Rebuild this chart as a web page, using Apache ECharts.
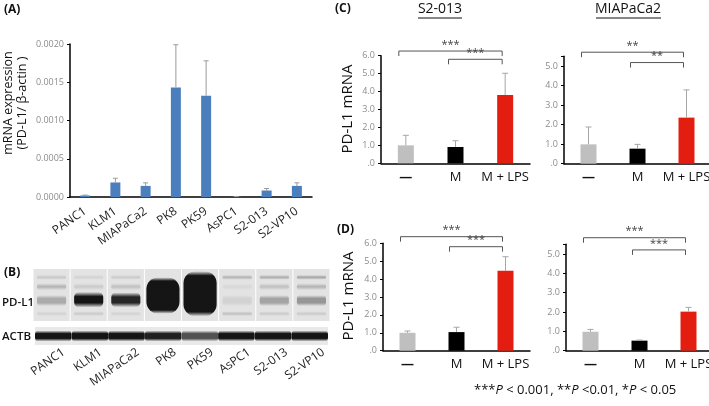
<!DOCTYPE html>
<html>
<head>
<meta charset="utf-8">
<script src="https://cdn.jsdelivr.net/npm/echarts@6/dist/echarts.min.js"></script>
<style>
  html, body { margin: 0; padding: 0; background: #fff; }
  #main { width: 709px; height: 406px; }
</style>
</head>
<body>
<div id="main"></div>
<script>
// (A) mRNA expression per cell line
var cellLines = ['PANC1', 'KLM1', 'MIAPaCa2', 'PK8', 'PK59', 'AsPC1', 'S2-013', 'S2-VP10'];
var mrnaMean = [0.000020, 0.000190, 0.000145, 0.001433, 0.001323, 0.000004, 0.000085, 0.000145];
var mrnaErr  = [0.000005, 0.000055, 0.000040, 0.000557, 0.000457, 0.000002, 0.000026, 0.000040];
var mrnaMax = 0.002, mrnaStep = 0.0005;

// (B) western blot band strength per lane
var pdl1Top  = [0.20, 0.12, 0.18, 0, 0, 0.35, 0.40, 0.45];
var pdl1Mid  = [0.35, 0.18, 0.25, 0, 0, 0.08, 0.25, 0.35];
var pdl1Main = [0.40, 1.50, 1.35, 5.5, 7.2, 0.12, 0.45, 0.55];
var pdl1Low  = [0.12, 0.18, 0.12, 0, 0, 0.25, 0.18, 0.18];
var actbBand = [1.5, 1.5, 1.5, 1.4, 1.05, 1.5, 1.5, 1.5];

// (C)(D) PD-L1 mRNA, relative
var treatGroups = ['—', 'M', 'M + LPS'];
var treatColors = ['#bfbfbf', '#000000', '#e31e10'];
var cS2Mean  = [1.00, 0.91, 3.81], cS2Err  = [0.56, 0.35, 1.21];
var cMiaMean = [0.99, 0.77, 2.36], cMiaErr = [0.89, 0.22, 1.42];
var dS2Mean  = [1.00, 1.04, 4.47], dS2Err  = [0.10, 0.27, 0.78];
var dMiaMean = [0.98, 0.52, 2.02], dMiaErr = [0.12, 0.03, 0.22];
// significance brackets: [from, to, height]
var cS2Sig  = [[0, 2, 6.26], [1, 2, 5.80]], cS2Stars  = ['***', '***'];
var cMiaSig = [[0, 2, 5.71], [1, 2, 5.18]], cMiaStars = ['**', '**'];
var dS2Sig  = [[0, 2, 6.37], [1, 2, 5.81]], dS2Stars  = ['***', '***'];
var dMiaSig = [[0, 2, 5.84], [1, 2, 5.21]], dMiaStars = ['***', '***'];

var FONT = '"Open Sans", "DejaVu Sans", sans-serif';
var chart = echarts.init(document.getElementById('main'), null, {renderer: 'canvas'});

function errorItem(cap, color) {
  return function (params, api) {
    var i = api.value(0), m = api.value(1), e = api.value(2);
    var p0 = api.coord([i, m]), p1 = api.coord([i, m + e]);
    return {type: 'group', children: [
      {type: 'line', shape: {x1: p0[0], y1: p0[1], x2: p1[0], y2: p1[1]}, style: {stroke: color, lineWidth: 1}},
      {type: 'line', shape: {x1: p1[0] - cap, y1: p1[1], x2: p1[0] + cap, y2: p1[1]}, style: {stroke: color, lineWidth: 1}}
    ]};
  };
}

function bracketItem(stars) {
  return function (params, api) {
    var a = api.coord([api.value(0), api.value(2)]);
    var b = api.coord([api.value(1), api.value(2)]);
    var x1 = a[0] - 7, x2 = b[0] - 3, y = a[1];
    return {type: 'group', children: [
      {type: 'polyline', shape: {points: [[x1, y + 5], [x1, y], [x2, y], [x2, y + 5]]},
        style: {stroke: '#555', lineWidth: 1, fill: null}},
      {type: 'text', x: (x1 + x2) / 2, y: y - 1,
        style: {text: stars[params.dataIndex], fill: '#444', font: '11px ' + FONT, textAlign: 'center', textVerticalAlign: 'bottom'}}
    ]};
  };
}

// soft-edged band: vertical gradient fading at top and bottom
function bandRect(x0, w, cy, h, v, r, edge, inset) {
  var a = Math.min(0.96, 0.65 * v);
  var c1 = 'rgba(12,12,12,' + a.toFixed(3) + ')', c0 = 'rgba(12,12,12,0)';
  var fill = new echarts.graphic.LinearGradient(0, 0, 0, 1, [
    {offset: 0, color: c0}, {offset: edge, color: c1}, {offset: 1 - edge, color: c1}, {offset: 1, color: c0}
  ]);
  return {type: 'rect', shape: {x: x0 + inset, y: cy - h / 2, width: w - 2 * inset, height: h, r: r},
    style: {fill: fill}};
}

function pdl1Item(params, api) {
  var i = api.value(0);
  var c = api.coord([i, 0]);
  var w = api.size([1, 0])[0];
  var cs = params.coordSys;
  var x0 = c[0] - w / 2;
  var kids = [{type: 'rect', shape: {x: x0 + 0.5, y: cs.y, width: w - 1, height: cs.height}, style: {fill: '#e3e3e3'}}];
  if (api.value(1) > 0) kids.push(bandRect(x0, w, cs.y + cs.height * 0.16, 5, api.value(1), 2, 0.5, 4));
  if (api.value(2) > 0) kids.push(bandRect(x0, w, cs.y + cs.height * 0.34, 7, api.value(2), 3, 0.5, 4));
  if (api.value(4) > 0) kids.push(bandRect(x0, w, cs.y + cs.height * 0.86, 5, api.value(4), 2, 0.5, 4));
  var v = api.value(3);
  if (v > 0) {
    var h = v > 1 ? 13 + 5.2 * (v - 1) : 11;
    var cy = cs.y + cs.height * 0.6 - 0.2 * (h - 13);
    kids.push(bandRect(x0, w, cy, h, v, Math.min(12, h / 3), v > 3 ? 0.1 : 0.3, v > 3 ? 2 : 4));
  }
  return {type: 'group', children: kids};
}

function actbItem(params, api) {
  var i = api.value(0);
  var c = api.coord([i, 0]);
  var w = api.size([1, 0])[0];
  var cs = params.coordSys;
  var x0 = c[0] - w / 2;
  return {type: 'group', children: [
    {type: 'rect', shape: {x: x0, y: cs.y, width: w, height: cs.height}, style: {fill: '#e9e9e9'}},
    bandRect(x0 - 2, w + 4, cs.y + cs.height / 2, 11, api.value(1), 4, 0.28, 2)
  ]};
}

var grids = [
  {left: 70, top: 44, width: 242, height: 153},      // A
  {left: 33, top: 269, width: 297, height: 52},      // B PD-L1
  {left: 35, top: 327, width: 293, height: 18},      // B ACTB
  {left: 45, top: 345, width: 297, height: 1},       // B lane labels
  {left: 381, top: 55.7, width: 149, height: 107.6}, // C S2-013
  {left: 564, top: 56.3, width: 147, height: 107.4}, // C MIAPaCa2
  {left: 383, top: 243.3, width: 147, height: 107.4},// D S2-013
  {left: 566, top: 244.3, width: 147, height: 106.4} // D MIAPaCa2
];
grids.forEach(function (g) { g.containLabel = false; g.outerBoundsMode = 'none'; });

var xAxes = [], yAxes = [], series = [];

// A
xAxes.push({type: 'category', gridIndex: 0, data: cellLines,
  axisLine: {lineStyle: {color: '#000', width: 1.5}}, axisTick: {show: false},
  axisLabel: {rotate: 35, margin: 13, color: '#222', fontSize: 12, fontFamily: FONT, interval: 0}});
yAxes.push({type: 'value', gridIndex: 0, min: 0, max: mrnaMax, interval: mrnaStep,
  axisLine: {show: true, lineStyle: {color: '#000', width: 1.5}},
  axisTick: {show: true, length: 3, lineStyle: {color: '#000'}}, splitLine: {show: false},
  axisLabel: {color: '#8c8c8c', fontSize: 9, fontFamily: FONT, margin: 6, formatter: function (v) { return v.toFixed(4); }}});
series.push({type: 'bar', xAxisIndex: 0, yAxisIndex: 0, data: mrnaMean, barWidth: 10, itemStyle: {color: '#4a7ebd'}});
series.push({type: 'custom', xAxisIndex: 0, yAxisIndex: 0, renderItem: errorItem(2.5, '#9a9a9a'), z: 3,
  data: mrnaMean.map(function (m, i) { return [i, m, mrnaErr[i]]; })});

// B blot grids
[1, 2, 3].forEach(function (gi) {
  xAxes.push({type: 'category', gridIndex: gi, data: cellLines,
    axisLine: {show: false}, axisTick: {show: false},
    axisLabel: gi === 3 ? {rotate: 35, margin: 5, color: '#222', fontSize: 12, fontFamily: FONT, interval: 0} : {show: false}});
  yAxes.push({type: 'value', gridIndex: gi, min: 0, max: 1, show: false});
});
series.push({type: 'custom', xAxisIndex: 1, yAxisIndex: 1, renderItem: pdl1Item,
  data: cellLines.map(function (l, i) { return [i, pdl1Top[i], pdl1Mid[i], pdl1Main[i], pdl1Low[i]]; })});
series.push({type: 'custom', xAxisIndex: 2, yAxisIndex: 2, renderItem: actbItem,
  data: cellLines.map(function (l, i) { return [i, actbBand[i]]; })});

// C / D panels
function panel(gi, means, errs, max, sig, stars) {
  var ai = xAxes.length;
  xAxes.push({type: 'category', gridIndex: gi, data: treatGroups,
    axisLine: {lineStyle: {color: '#000', width: 1.5}}, axisTick: {show: false},
    axisLabel: {color: '#111', fontSize: 13, fontFamily: FONT, margin: 7, interval: 0,
      formatter: function (v) { return v === '—' ? '{d|' + v + '}' : v; },
      rich: {d: {fontSize: 13, fontWeight: 'bold', color: '#111'}}}});
  yAxes.push({type: 'value', gridIndex: gi, min: 0, max: max, interval: 1,
    axisLine: {show: true, lineStyle: {color: '#000', width: 1.5}},
    axisTick: {show: true, length: 3, lineStyle: {color: '#000'}}, splitLine: {show: false},
    axisLabel: {color: '#8c8c8c', fontSize: 9, fontFamily: FONT, margin: 6,
      formatter: function (v) { return v === 0 ? '.0' : (v % 1 === 0 ? v.toFixed(1) : ''); }}});
  series.push({type: 'bar', xAxisIndex: ai, yAxisIndex: ai, barWidth: 16,
    data: means.map(function (m, i) { return {value: m, itemStyle: {color: treatColors[i]}}; })});
  series.push({type: 'custom', xAxisIndex: ai, yAxisIndex: ai, renderItem: errorItem(3, '#a6a6a6'), z: 3,
    data: means.map(function (m, i) { return [i, m, errs[i]]; })});
  series.push({type: 'custom', xAxisIndex: ai, yAxisIndex: ai, renderItem: bracketItem(stars), encode: {x: [0, 1], y: 2},
    data: sig});
}
panel(4, cS2Mean, cS2Err, 6, cS2Sig, cS2Stars);
panel(5, cMiaMean, cMiaErr, 5.5, cMiaSig, cMiaStars);
panel(6, dS2Mean, dS2Err, 6, dS2Sig, dS2Stars);
panel(7, dMiaMean, dMiaErr, 5.5, dMiaSig, dMiaStars);

function txt(x, y, text, size, weight, align) {
  return {type: 'text', x: x, y: y, style: {text: text, fill: '#111', font: (weight || 'normal') + ' ' + size + 'px ' + FONT,
    textAlign: align || 'left', textVerticalAlign: 'middle'}};
}

var graphic = [
  txt(4, 10, '(A)', 12, 'bold'),
  {type: 'text', x: 15, y: 103, rotation: Math.PI / 2,
    style: {text: 'mRNA expression\n(PD-L1/ β-actin )', fill: '#111', font: '12.5px ' + FONT, lineHeight: 14,
      textAlign: 'center', textVerticalAlign: 'middle'}},
  txt(4, 273, '(B)', 12, 'bold'),
  txt(2, 303, 'PD-L1', 11.5, '600'),
  txt(2, 337, 'ACTB', 11.5, '600'),
  txt(335, 9, '(C)', 12, 'bold'),
  txt(440, 9, 'S2-013', 14, 'normal', 'center'),
  {type: 'line', shape: {x1: 418, y1: 18, x2: 462, y2: 18}, style: {stroke: '#111', lineWidth: 1}},
  txt(628, 9, 'MIAPaCa2', 14, 'normal', 'center'),
  {type: 'line', shape: {x1: 596, y1: 18, x2: 661, y2: 18}, style: {stroke: '#111', lineWidth: 1}},
  txt(337, 230, '(D)', 12, 'bold'),
  {type: 'text', x: 348, y: 109, rotation: Math.PI / 2,
    style: {text: 'PD-L1 mRNA', fill: '#111', font: '15px ' + FONT, textAlign: 'center', textVerticalAlign: 'middle'}},
  {type: 'text', x: 349, y: 296, rotation: Math.PI / 2,
    style: {text: 'PD-L1 mRNA', fill: '#111', font: '15px ' + FONT, textAlign: 'center', textVerticalAlign: 'middle'}},
  {type: 'text', x: 474, y: 390,
    style: {text: '{s|***}{i|P}{s| < 0.001, **}{i|P}{s| <0.01, *}{i|P}{s| < 0.05}', textVerticalAlign: 'middle',
      rich: {s: {fill: '#111', font: '13px ' + FONT}, i: {fill: '#111', font: 'italic 13px ' + FONT}}}}
];

chart.setOption({
  animation: false,
  backgroundColor: '#fff',
  textStyle: {fontFamily: FONT},
  grid: grids,
  xAxis: xAxes,
  yAxis: yAxes,
  series: series,
  graphic: graphic
});
</script>
</body>
</html>
